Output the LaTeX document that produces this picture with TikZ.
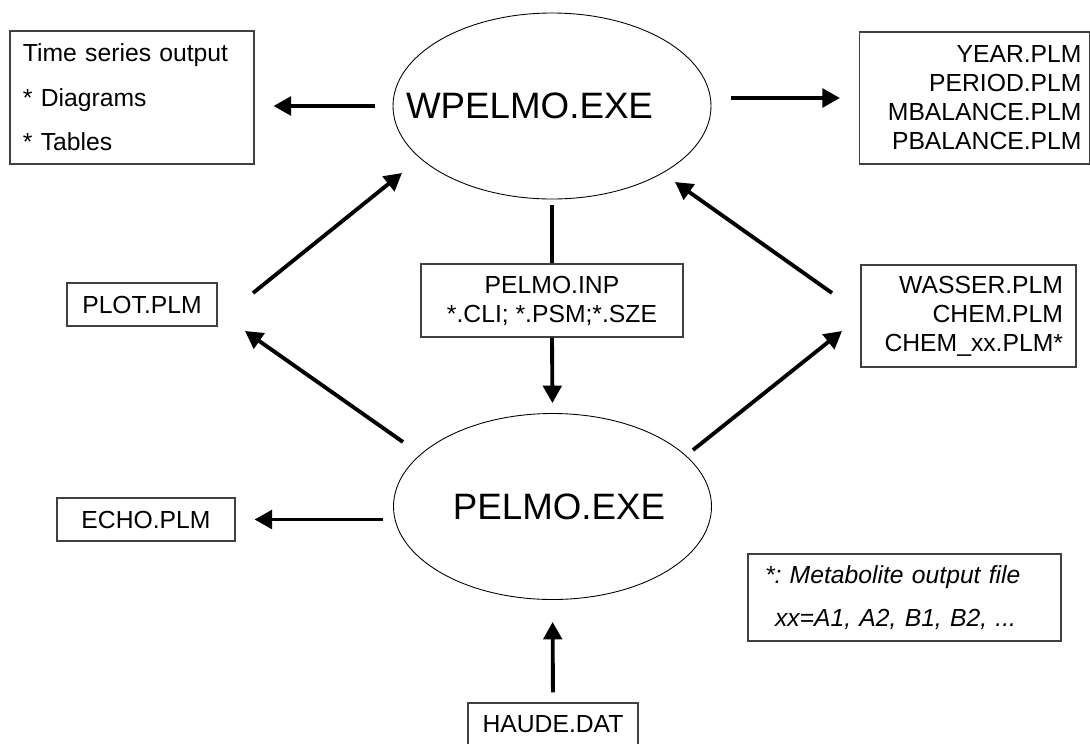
\documentclass[tikz,border=0pt]{standalone}
\usepackage{fontspec}
\setmainfont{Liberation Sans}
\usetikzlibrary{shapes.geometric,arrows.meta}

\begin{document}
\begin{tikzpicture}[
    file/.style={rectangle, draw=black!75, line width=0.6pt, inner sep=0pt,
      font=\fontsize{14.06pt}{16.5pt}\selectfont\frenchspacing},
    prog/.style={ellipse, draw=black, line width=0.5pt, inner sep=0pt,
      minimum width=6.36cm, minimum height=3.72cm,
      font=\fontsize{20.9pt}{24pt}\selectfont},
    flow/.style={-{Triangle[length=0.35cm,width=0.37cm]}, line width=2.2pt}
  ]
  \useasboundingbox (0,0) rectangle (21.8,-14.86);

  % Programs
  \node[prog] (wpelmo) at (11.04,-2.12) {\makebox[0pt]{WPELMO.EXE\hspace{0.9cm}}};
  \node[prog] (pelmo) at (11.05,-10.13) {\makebox[0pt]{\hspace{0.26cm}PELMO.EXE}};

  % Files around the programs
  \node[file, minimum width=4.88cm, minimum height=2.66cm, text width=4.36cm,
    inner xsep=0.26cm, align=left, font=\fontsize{14.06pt}{25.3pt}\selectfont]
    (series) at (2.64,-1.95) {Time series output\\{}* Diagrams\\{}* Tables};
  \node[file, minimum width=4.6cm, minimum height=2.64cm, text width=4.28cm,
    inner xsep=0.16cm, align=right]
    (results) at (19.49,-1.96) {YEAR.PLM\\PERIOD.PLM\\MBALANCE.PLM\\PBALANCE.PLM};
  \node[file, minimum width=5.24cm, minimum height=1.46cm, align=center]
    (inp) at (11.04,-6.01) {PELMO.INP\\{}*.CLI; *.PSM;*.SZE};
  \node[file, minimum width=3cm, minimum height=0.86cm] (plot) at (2.84,-6.09) {PLOT.PLM};
  \node[file, minimum width=4.3cm, minimum height=2.04cm, text width=3.78cm,
    inner xsep=0.26cm, align=right]
    (wasser) at (19.37,-6.32) {WASSER.PLM\\CHEM.PLM\\CHEM\_xx.PLM*};
  \node[file, minimum width=3.56cm, minimum height=0.86cm] (echo) at (2.92,-10.39) {ECHO.PLM};
  \node[file, minimum width=6.26cm, minimum height=1.74cm, text width=5.58cm,
    inner xsep=0.34cm, align=left,
    font=\fontsize{14.06pt}{24.5pt}\selectfont\itshape\frenchspacing]
    (meta) at (18.09,-11.95) {*: Metabolite output file\\\hspace*{0.2cm}xx=A1, A2, B1, B2, ...};
  \node[file, minimum width=3.4cm, minimum height=0.86cm] (haude) at (11.06,-14.49) {HAUDE.DAT};

  % Free ends of the slanted arrows
  \coordinate (a1s) at (8.06,-8.84);  \coordinate (a1e) at (4.9,-6.62);
  \coordinate (a2s) at (5.06,-5.86);  \coordinate (a2e) at (8.04,-3.46);
  \coordinate (a3s) at (16.64,-5.86); \coordinate (a3e) at (13.5,-3.64);
  \coordinate (a4s) at (13.86,-9.0);  \coordinate (a4e) at (16.84,-6.62);

  % Straight connections
  \draw[flow, shorten <=0.36cm, shorten >=0.38cm] (wpelmo.west) -- (series.east |- wpelmo.west);
  \draw[flow, shorten <=0.4cm, shorten >=0.38cm] (wpelmo.east |- results.west) -- (results.west);
  \draw[line width=2.2pt, shorten <=0.12cm] (wpelmo.south) -- (inp.north);
  \draw[flow, shorten >=0.2cm] (inp.south) -- (pelmo.north);
  \draw[flow, shorten <=0.2cm, shorten >=0.38cm] (pelmo.west |- echo.east) -- (echo.east);
  \draw[flow, shorten <=0.2cm, shorten >=0.44cm] (haude.north) -- (pelmo.south);

  % Slanted connections
  \draw[flow] (a1s) -- (a1e);
  \draw[flow] (a2s) -- (a2e);
  \draw[flow] (a3s) -- (a3e);
  \draw[flow] (a4s) -- (a4e);
\end{tikzpicture}
\end{document}
